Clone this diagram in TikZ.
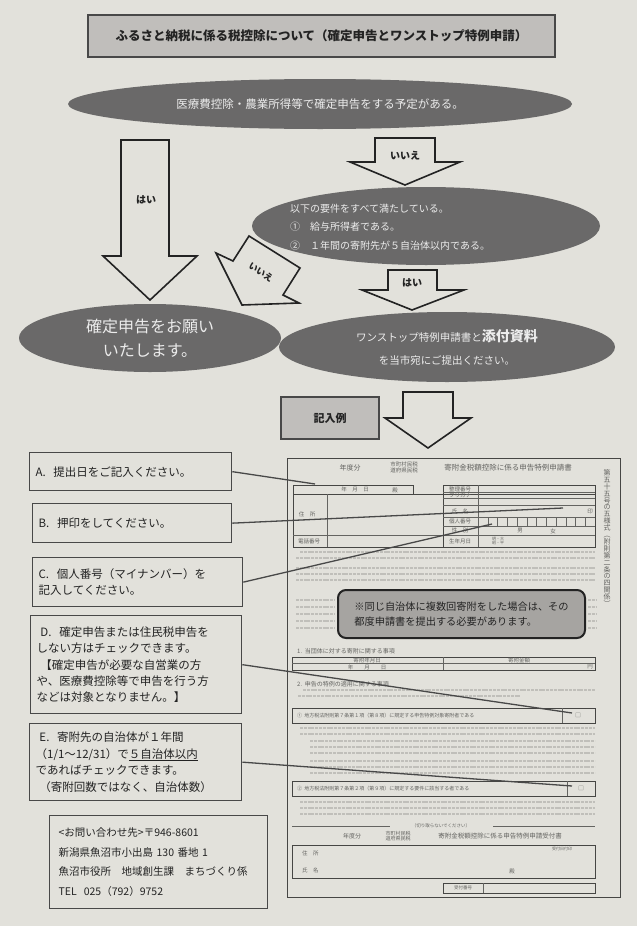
\documentclass[tikz,border=0pt]{standalone}
\usepackage{fontspec}
\setmainfont{Noto Sans CJK JP}
\usetikzlibrary{positioning,shapes.geometric}

\definecolor{paper}{RGB}{226,225,219}
\definecolor{titlegray}{RGB}{192,190,187}
\definecolor{ovalgray}{RGB}{106,105,105}
\definecolor{ovaltext}{RGB}{236,236,236}
\definecolor{ink}{RGB}{35,35,35}
\definecolor{edge}{RGB}{72,72,72}
\definecolor{formink}{RGB}{100,100,97}
\definecolor{printgray}{RGB}{192,191,186}
\definecolor{notegray}{RGB}{166,164,161}

\tikzset{
  titlebox/.style={draw=edge, line width=1.2pt, fill=titlegray, text=ink, font=\bfseries\fontsize{12.5}{15}\selectfont},
  oval/.style={ellipse, fill=ovalgray, text=ovaltext, inner sep=0pt},
  blockarrow/.style={draw=ink, line width=1.6pt, fill=paper, line join=miter},
  arrowlabel/.style={text=ink, font=\bfseries\fontsize{10}{12}\selectfont},
  callout/.style={draw=edge, line width=1.3pt, fill=paper, anchor=north west, align=left, inner xsep=6pt, text=ink, font=\fontsize{11.5}{16.4}\selectfont},
  leader/.style={draw=edge, line width=1.3pt},
  formline/.style={draw=formink, line width=0.5pt},
  formthick/.style={draw=formink!70!black, line width=1pt},
  formtext/.style={text=formink, font=\fontsize{5.5}{6.5}\selectfont, inner sep=0pt},
  fineprint/.style={draw=printgray, line width=1.1pt, dash pattern=on 3pt off 0.8pt},
}

\begin{document}
\begin{tikzpicture}[x=1pt,y=-1pt]
  \fill[paper] (0,0) rectangle (637,926);
  \useasboundingbox (0,0) rectangle (637,926);

  % flow chart
  \node[titlebox, minimum width=467pt, minimum height=42pt] (title) at (321.5,36) {ふるさと納税に係る税控除について（確定申告とワンストップ特例申請）};
  \node[oval, minimum width=504pt, minimum height=50pt, font=\fontsize{11.5}{14}\selectfont] (plan) at (320,104) {医療費控除・農業所得等で確定申告をする予定がある。};

  \draw[blockarrow] (121,140) -- (169,140) -- (169,256) -- (197,256) -- (150,300) -- (103,256) -- (121,256) -- cycle;
  \node[arrowlabel] (yes1) at (146,200) {はい};
  \draw[blockarrow] (375,138) -- (435,138) -- (435,162) -- (460,162) -- (405,185) -- (350,162) -- (375,162) -- cycle;
  \node[arrowlabel] (no1) at (405,156) {いいえ};

  \node[oval, minimum width=348pt, minimum height=78pt] (req) at (426,226) {};
  \node[text=ovaltext, align=left, anchor=west, inner sep=0pt, font=\fontsize{10}{18.5}\selectfont] (reqtext) at (290,227) {以下の要件をすべて満たしている。\\①\quad 給与所得者である。\\②\quad １年間の寄附先が５自治体以内である。};

  \draw[blockarrow] (249,236) -- (300,268) -- (283,295) -- (299,303) -- (242,305) -- (216,253) -- (233,261) -- cycle;
  \node[arrowlabel, rotate=-34, font=\bfseries\fontsize{9}{10}\selectfont, inner sep=1pt] (no2) at (261,272) {いいえ};

  \draw[blockarrow] (388,270) -- (437,270) -- (437,290) -- (464,290) -- (412,310) -- (362,290) -- (388,290) -- cycle;
  \node[arrowlabel] (yes2) at (412,283) {はい};

  \node[oval, minimum width=262pt, minimum height=68pt, align=center, font=\fontsize{16}{24}\selectfont] (kakutei) at (150,338) {確定申告をお願い\\いたします。};
  \node[oval, minimum width=336pt, minimum height=70pt, align=center, font=\fontsize{10.5}{23}\selectfont] (onestop) at (447,347) {ワンストップ特例申請書と{\bfseries\fontsize{14}{16}\selectfont 添付資料}\\を当市宛にご提出ください。};

  \node[titlebox, minimum width=98pt, minimum height=42pt, font=\bfseries\fontsize{11}{13}\selectfont] (example) at (330,418) {記入例};
  \draw[blockarrow] (403,392) -- (453,392) -- (453,418) -- (471,418) -- (428,448) -- (385,418) -- (403,418) -- cycle;

  % application form
  \draw[formthick] (287,458) rectangle (620,897);
  \node[formtext, font=\fontsize{7}{8}\selectfont] (fy) at (350,468) {年度分};
  \node[formtext, align=center, font=\fontsize{5.5}{6}\selectfont] (tax) at (404,467) {市町村民税\\道府県民税};
  \node[formtext, font=\fontsize{7.5}{8}\selectfont] (formtitle) at (508,468) {寄附金税額控除に係る申告特例申請書};
  \node[formtext, align=center, font=\fontsize{7}{6.9}\selectfont] (formno) at (607,538) {第\\五\\十\\五\\号\\の\\五\\様\\式\\︵\\附\\則\\第\\二\\条\\の\\四\\関\\係\\︶};

  \draw[formthick] (293,485) rectangle (413,494);
  \draw[formthick] (293,494) rectangle (595,547);
  \draw[formthick] (443,485) rectangle (595,547);
  \draw[formline] (327,494) -- (327,547) (293,535) -- (443,535);
  \draw[formline] (478,485) -- (478,547);
  \foreach \yy in {492,498,505,517,526,535} \draw[formline] (443,\yy) -- (595,\yy);
  \foreach \i in {1,...,11} \draw[formline] (478+\i*9.75,517) -- (478+\i*9.75,526);
  \node[formtext] (date) at (355,489) {年\quad 月\quad 日};
  \node[formtext] (dono) at (395,491) {殿};
  \node[formtext] (addr) at (307,514) {住　所};
  \node[formtext] (tel) at (309,541) {電話番号};
  \node[formtext] (seiri) at (460,489) {整理番号};
  \node[formtext] (kana) at (460,495) {フリガナ};
  \node[formtext] (name) at (460,511) {氏　名};
  \node[formtext] (mynum) at (460,521) {個人番号};
  \node[formtext] (sex) at (460,530) {性　別};
  \node[formtext] (birth) at (460,541) {生年月日};
  \node[formtext] (seal) at (590,511) {印};
  \node[formtext] (male) at (520,531) {男};
  \node[formtext] (female) at (553,531) {女};
  \node[formtext, align=center, font=\fontsize{4}{4.5}\selectfont] (era) at (498,541) {明・大\\昭・平};

  \draw[fineprint] (300,552) -- (595,552) (296,558) -- (595,558);
  \foreach \yy in {568,574,580} \draw[fineprint] (296,\yy) -- (595,\yy);
  \foreach \yy in {600,607,614,621,628} \draw[fineprint] (296,\yy) -- (335,\yy) (588,\yy) -- (597,\yy);

  \node[draw=ink, line width=2pt, fill=notegray, rounded corners=8pt, minimum width=247pt, minimum height=48pt, align=left, text=ink, font=\fontsize{10.2}{15}\selectfont] (note) at (461.5,614) {※同じ自治体に複数回寄附をした場合は、その\\都度申請書を提出する必要があります。};

  \node[formtext, anchor=west, font=\fontsize{6}{7}\selectfont] (sec1) at (297,651) {1.\ \ 当団体に対する寄附に関する事項};
  \draw[formthick] (292,657) rectangle (595,670);
  \draw[formline] (443,657) -- (443,670) (292,663) -- (595,663);
  \node[formtext] (kday) at (367,660) {寄附年月日};
  \node[formtext] (kamt) at (519,660) {寄附金額};
  \node[formtext] (kymd) at (367,667) {年\qquad 月\qquad 日};
  \node[formtext] (yen) at (590,667) {円};

  \node[formtext, anchor=west, font=\fontsize{6}{7}\selectfont] (sec2) at (297,684) {2.\ \ 申告の特例の適用に関する事項};
  \draw[fineprint] (303,690) -- (595,690) (298,696) -- (520,696);
  \draw[formthick] (292,708) rectangle (595,723);
  \draw[formline] (562,708) -- (562,723);
  \node[formtext, anchor=west, font=\fontsize{5}{6}\selectfont] (cond1) at (297,715.5) {①\ \ 地方税法附則第７条第１項（第８項）に規定する申告特例対象寄附者である};
  \node[formtext] (check1) at (578,715.5) {□};
  \foreach \yy in {728,734} \draw[fineprint] (300,\yy) -- (595,\yy);
  \foreach \yy in {741,747,753,761,767,773} \draw[fineprint] (310,\yy) -- (595,\yy);
  \draw[formthick] (292,781) rectangle (595,796);
  \draw[formline] (567,781) -- (567,796);
  \node[formtext, anchor=west, font=\fontsize{5}{6}\selectfont] (cond2) at (297,788.5) {②\ \ 地方税法附則第７条第２項（第９項）に規定する要件に該当する者である};
  \node[formtext] (check2) at (581,788.5) {□};
  \foreach \yy in {802,808,814} \draw[fineprint] (300,\yy) -- (595,\yy);

  \draw[formline] (292,826) -- (390,826) (493,826) -- (595,826);
  \node[formtext, font=\fontsize{4.5}{5}\selectfont] (cut) at (441,826) {（切り取らないでください）};
  \node[formtext, font=\fontsize{6}{7}\selectfont] (fy2) at (352,836) {年度分};
  \node[formtext, align=center, font=\fontsize{5}{5.5}\selectfont] (tax2) at (398,836) {市町村民税\\道府県民税};
  \node[formtext, font=\fontsize{6.5}{7}\selectfont] (receipt) at (500,836) {寄附金税額控除に係る申告特例申請受付書};
  \draw[formthick] (292,845) rectangle (595,878);
  \node[formtext, anchor=west] (addr2) at (302,853) {住　所};
  \node[formtext, anchor=west] (name2) at (302,870) {氏　名};
  \node[formtext] (dono2) at (512,872) {殿};
  \node[formtext, font=\fontsize{4}{5}\selectfont] (stamp) at (562,849) {受付日付印};
  \draw[formthick] (443,883) rectangle (595,893);
  \draw[formline] (483,883) -- (483,893);
  \node[formtext, font=\fontsize{4.5}{5}\selectfont] (recno) at (463,888) {受付番号};

  % callouts
  \node[callout, minimum width=202pt, minimum height=38pt, text width=190pt] (boxA) at (29,452) {A.\ \ 提出日をご記入ください。};
  \node[callout, minimum width=199pt, minimum height=39pt, text width=187pt] (boxB) at (32,503) {B.\ \ 押印をしてください。};
  \node[callout, minimum width=210pt, minimum height=49pt, text width=198pt] (boxC) at (32,557) {C.\ \ 個人番号（マイナンバー）を\\記入してください。};
  \node[callout, minimum width=211pt, minimum height=98pt, text width=199pt] (boxD) at (30,615) {\ D.\ \ 確定申告または住民税申告を\\しない方はチェックできます。\\\ 【確定申告が必要な自営業の方\\や、医療費控除等で申告を行う方\\などは対象となりません。】};
  \node[callout, minimum width=212pt, minimum height=77pt, text width=200pt, font=\fontsize{11.5}{16.8}\selectfont] (boxE) at (29,723) {\ E.\ \ 寄附先の自治体が１年間\\（1/1～12/31）で\underline{５自治体以内}\\であればチェックできます。\\\ （寄附回数ではなく、自治体数）};

  \coordinate (ptA) at (315,484);
  \coordinate (ptB) at (563,508);
  \coordinate (ptC) at (492,524);
  \coordinate (ptD) at (572,713);
  \coordinate (ptE) at (572,786);
  \draw[leader] (boxA.east) -- (ptA);
  \draw[leader] (boxB.east) -- (ptB);
  \draw[leader] (boxC.east) -- (ptC);
  \draw[leader] (boxD.east) -- (ptD);
  \draw[leader] (boxE.east) -- (ptE);

  \node[callout, minimum width=214pt, minimum height=93pt, text width=200pt, inner xsep=9pt, font=\fontsize{10.5}{19.8}\selectfont] (contact) at (49,815) {<お問い合わせ先>〒946-8601\\新潟県魚沼市小出島 130 番地 1\\魚沼市役所　地域創生課　まちづくり係\\TEL\ \ 025（792）9752};
\end{tikzpicture}
\end{document}
